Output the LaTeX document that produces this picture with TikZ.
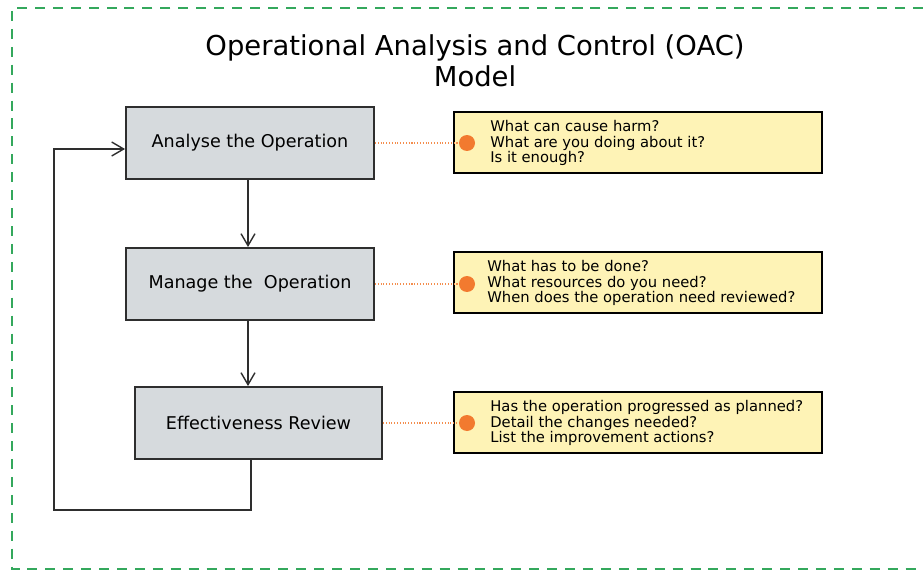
\documentclass[tikz,border=0pt]{standalone}
\usepackage{fontspec}
\setmainfont{DejaVu Sans}
\usepackage{tikz}
\usetikzlibrary{arrows.meta,positioning}
\definecolor{framegreen}{HTML}{34A85C}
\definecolor{boxgrey}{HTML}{D6DADD}
\definecolor{boxyellow}{HTML}{FEF3B6}
\definecolor{dotorange}{HTML}{F27A2F}
\definecolor{edgedark}{HTML}{2E2E2E}

\begin{document}
\begin{tikzpicture}[x=0.02cm,y=-0.02cm,
  op/.style={draw=edgedark,line width=1.1pt,fill=boxgrey,minimum width=4.96cm,minimum height=1.44cm,inner sep=0pt,font=\fontsize{10}{12}\selectfont},
  qbox/.style={draw=black,line width=1.1pt,fill=boxyellow,minimum width=7.36cm,minimum height=1.22cm,inner sep=0pt},
  qs/.style={align=left,anchor=west,inner sep=0pt,font=\fontsize{8.4}{8.9}\selectfont},
  dot/.style={circle,fill=dotorange,minimum size=0.32cm,inner sep=0pt},
  lnk/.style={dotorange!85,densely dotted,line width=0.6pt},
  arr/.style={-{Straight Barb[length=2.4mm,width=2.8mm]},edgedark,line width=0.8pt}]
\useasboundingbox (0,0) rectangle (923,571);
% ---------- frame ----------
\draw[framegreen,line width=1.3pt,dash pattern=on 5.7pt off 4.5pt] (923,8) -- (12,8) -- (12,569) -- (923,569);
\node[align=center,font=\fontsize{15.6}{17.6}\selectfont] (title) at (475,61) {Operational Analysis and Control (OAC)\\Model};
% ---------- steps ----------
\node[op] (ana) at (250,143) {Analyse the Operation};
\node[op] (man) at (250,284) {Manage the\ \ Operation};
\node[op,minimum width=4.94cm] (eff) at (258.5,423) {Effectiveness Review};
% ---------- questions ----------
\node[qbox] (q1) at (638,142.5) {};
\node[qbox] (q2) at (638,282.5) {};
\node[qbox] (q3) at (638,422.5) {};
\node[qs] (t1) at (490,143) {What can cause harm?\\What are you doing about it?\\Is it enough?};
\node[qs] (t2) at (487,283) {What has to be done?\\What resources do you need?\\When does the operation need reviewed?};
\node[qs] (t3) at (490,423) {Has the operation progressed as planned?\\Detail the changes needed?\\List the improvement actions?};
\foreach \s/\d in {ana/d1,man/d2,eff/d3}{
  \coordinate (c\d) at (467,0);
  \draw[lnk] (\s.east) -- (\s.east -| c\d);
  \node[dot] (\d) at (\s.east -| c\d) {};
}
% ---------- flow ----------
\draw[arr] ([xshift=-0.04cm]ana.south) -- ([xshift=-0.04cm]man.north);
\draw[arr] ([xshift=-0.04cm]man.south) -- ([xshift=-0.04cm]man.south |- eff.north);
\coordinate (fb) at (54,510);
\draw[arr] ([xshift=-0.15cm]eff.south) |- (fb) |- ([yshift=-0.12cm]ana.west);
\end{tikzpicture}
\end{document}
